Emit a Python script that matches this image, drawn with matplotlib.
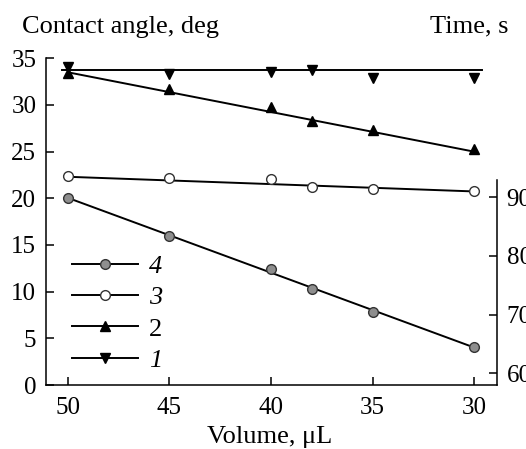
import matplotlib

matplotlib.use("Agg")
import matplotlib.pyplot as plt
from matplotlib.lines import Line2D

plt.rcParams["font.family"] = ["Liberation Serif", "DejaVu Serif"]

# volume, uL
volume = [50, 45, 40, 38, 35, 30]
# contact angle, deg (left axis)
angle1 = [34.1, 33.3, 33.5, 33.8, 32.9, 32.9]
angle2 = [33.4, 31.7, 29.8, 28.3, 27.3, 25.3]
# time, s (right axis)
time3 = [93.7, 93.3, 93.2, 91.7, 91.5, 91.1]
time4 = [89.9, 83.4, 77.7, 74.4, 70.5, 64.4]

# fitted lines (end points)
fit1_x, fit1_y = [50.3, 29.6], [33.8, 33.8]
fit2_x, fit2_y = [50, 30], [33.5, 25.0]
fit3_x, fit3_y = [50, 30], [93.5, 91.0]
fit4_x, fit4_y = [50, 30], [89.9, 64.4]

FS = 18
GRAY = "#8e8e8e"
EDGE = "#333333"

fig = plt.figure(figsize=(5.26, 4.49), dpi=100)
ax = fig.add_axes([46 / 526, 1 - 385 / 449, (497 - 46) / 526, (385 - 58.3) / 449])
ax2 = ax.twinx()

lw = 1.4
ax.plot(fit1_x, fit1_y, color="black", lw=lw)
ax.plot(volume, angle1, ls="", marker="v", ms=7.5, color="black")
ax.plot(fit2_x, fit2_y, color="black", lw=lw)
ax.plot(volume, angle2, ls="", marker="^", ms=7.5, color="black")

ax2.plot(fit3_x, fit3_y, color="black", lw=lw)
ax2.plot(volume, time3, ls="", marker="o", ms=7, mfc="white", mec=EDGE, mew=1.0)
ax2.plot(fit4_x, fit4_y, color="black", lw=lw)
ax2.plot(volume, time4, ls="", marker="o", ms=7, mfc=GRAY, mec=EDGE, mew=1.0)

ax.set_xlim(51.08, 28.87)
ax.set_ylim(0, 35)
ax2.set_ylim(58.0, 113.7)
ax.set_xticks([50, 45, 40, 35, 30])
ax.set_yticks([0, 5, 10, 15, 20, 25, 30, 35])
ax2.set_yticks([60, 70, 80, 90])

for a in (ax, ax2):
    a.spines["top"].set_visible(False)
    for s in a.spines.values():
        s.set_linewidth(1.1)
ax.spines["right"].set_visible(False)
ax2.spines["left"].set_visible(False)
ax2.spines["bottom"].set_visible(False)
ax2.spines["right"].set_bounds(58.0, 92.95)

ax.tick_params(axis="both", direction="in", length=6, width=1.1,
               labelsize=FS)
ax.tick_params(axis="x", pad=9)
ax.tick_params(axis="y", pad=7)
ax2.tick_params(axis="y", direction="in", length=6, width=1.1,
                labelsize=FS, pad=7)

fig.text(22 / 526, 1 - 32.7 / 449, "Contact angle, deg", fontsize=19,
         va="baseline", ha="left")
fig.text(430 / 526, 1 - 32.7 / 449, "Time, s", fontsize=19,
         va="baseline", ha="left")
fig.text(270 / 526, 1 - 443 / 449, "Volume, μL", fontsize=19,
         va="baseline", ha="center")

handles = [
    Line2D([], [], color="black", lw=lw, marker="o", ms=7, mfc=GRAY, mec=EDGE),
    Line2D([], [], color="black", lw=lw, marker="o", ms=7, mfc="white", mec=EDGE),
    Line2D([], [], color="black", lw=lw, marker="^", ms=7.5),
    Line2D([], [], color="black", lw=lw, marker="v", ms=7.5),
]
labels = ["4", "3", "2", "1"]
leg = ax.legend(handles, labels, loc="lower left",
                bbox_to_anchor=(0.058, 0.04), frameon=False, fontsize=19,
                handlelength=2.5, handletextpad=0.4, labelspacing=0.3,
                borderaxespad=0, borderpad=0)
for t, lab in zip(leg.get_texts(), labels):
    t.set_style("normal" if lab == "2" else "italic")

fig.savefig("out.png", dpi=100)
